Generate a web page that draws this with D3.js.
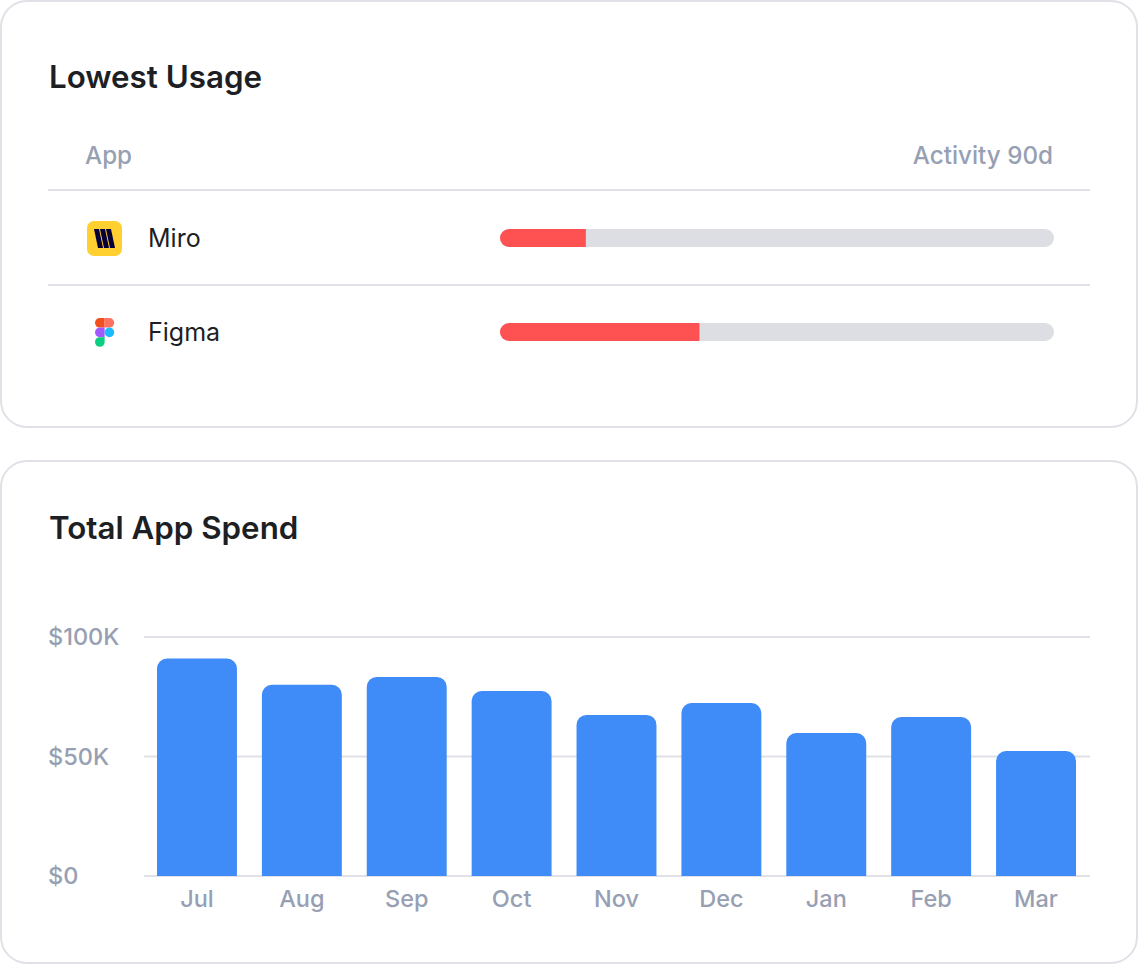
<!DOCTYPE html>
<html><head><meta charset="utf-8">
<script src="https://cdn.jsdelivr.net/npm/d3@7"></script>
<style>body{margin:0;background:#fff;font-family:Inter,sans-serif}</style></head>
<body><svg id="c" width="1138" height="964"></svg>
<script>
const apps = ["Miro","Figma"];
const activity = [15.5, 36];
const months = ["Jul","Aug","Sep","Oct","Nov","Dec","Jan","Feb","Mar"];
const spend = [91, 80, 83.3, 77.4, 67.4, 72.4, 59.8, 66.5, 52.3];
const yTicks = [0, 50, 100];

const svg = d3.select("#c");
const grey = "#97a0b3";
function card(y,h){svg.append("rect").attr("x",1).attr("y",y).attr("width",1136).attr("height",h).attr("rx",26).attr("fill","#fff").attr("stroke","#dfe1e6").attr("stroke-width",2);}
card(1,426); card(461,502);

svg.append("text").attr("x",49).attr("y",88).text("Lowest Usage").attr("font-size",31.3).attr("font-weight",600).attr("fill","#1d1f24");
svg.append("text").attr("x",85).attr("y",164).text("App").attr("font-size",24.2).attr("font-weight",500).attr("fill",grey);
svg.append("text").attr("x",1053).attr("y",164).attr("text-anchor","end").text("Activity 90d").attr("font-size",24.2).attr("font-weight",500).attr("fill",grey);
[190,285].forEach(y=>svg.append("line").attr("x1",48).attr("x2",1090).attr("y1",y).attr("y2",y).attr("stroke","#dfe1e6").attr("stroke-width",2));

const rowY = d3.scalePoint().domain(apps).range([238,332]);
const ax = d3.scaleLinear().domain([0,100]).range([500,1054]);
apps.forEach((a,i)=>{
  const y=rowY(a);
  svg.append("text").attr("x",148).attr("y",y+9).text(a).attr("font-size",25).attr("fill","#1d1f24");
  svg.append("rect").attr("x",ax(0)).attr("y",y-9).attr("width",ax(100)-ax(0)).attr("height",18).attr("rx",9).attr("fill","#dcdee4");
  const w=ax(activity[i])-ax(0);
  svg.append("path").attr("d",`M${ax(0)+9},${y-9}H${ax(0)+w}V${y+9}H${ax(0)+9}A9,9 0 0 1 ${ax(0)+9},${y-9}Z`).attr("fill","#fe5252");
});
// Miro icon
const mi=svg.append("g").attr("transform","translate(87,221)");
mi.append("rect").attr("width",35).attr("height",35).attr("rx",7).attr("fill","#ffd02f");
[0,1,2].forEach(k=>mi.append("path").attr("d",`M${7+k*6},8 L${12+k*6},8 L${16+k*6},27 L${11+k*6},27Z`).attr("fill","#050038"));
// Figma icon
const fg=svg.append("g").attr("transform","translate(95,318) scale(1.2)");
fg.append("path").attr("d","M4,0H8V8H4A4,4 0 0 1 4,0Z").attr("fill","#f24e1e");
fg.append("path").attr("d","M8,0H12A4,4 0 0 1 12,8H8Z").attr("fill","#ff7262");
fg.append("path").attr("d","M4,8H8V16H4A4,4 0 0 1 4,8Z").attr("fill","#a259ff");
fg.append("circle").attr("cx",12).attr("cy",12).attr("r",4).attr("fill","#1abcfe");
fg.append("path").attr("d","M4,16H8V20A4,4 0 1 1 4,16Z").attr("fill","#0acf83");

svg.append("text").attr("x",49).attr("y",539).text("Total App Spend").attr("font-size",31.3).attr("font-weight",600).attr("fill","#1d1f24");
const x = d3.scaleBand().domain(months).range([144,1089]).paddingInner(0.238).paddingOuter(0.124);
const y = d3.scaleLinear().domain([0,100]).range([876,637]);
yTicks.forEach(t=>{
  svg.append("line").attr("x1",144).attr("x2",1090).attr("y1",y(t)).attr("y2",y(t)).attr("stroke","#dfe1e6").attr("stroke-width",2);
  svg.append("text").attr("x",48).attr("y",y(t)+8).text("$"+(t?t+"K":"0")).attr("font-size",23.5).attr("font-weight",500).attr("fill",grey);
});
const r=10;
months.forEach((m,i)=>{
  const x0=x(m), w=x.bandwidth(), t=y(spend[i]), b=y(0);
  svg.append("path").attr("d",`M${x0},${b}V${t+r}A${r},${r} 0 0 1 ${x0+r},${t}H${x0+w-r}A${r},${r} 0 0 1 ${x0+w},${t+r}V${b}Z`).attr("fill","#3f8bf7");
  svg.append("text").attr("x",x0+w/2).attr("y",907).attr("text-anchor","middle").text(m).attr("font-size",23.5).attr("font-weight",500).attr("fill",grey);
});
</script></body></html>
